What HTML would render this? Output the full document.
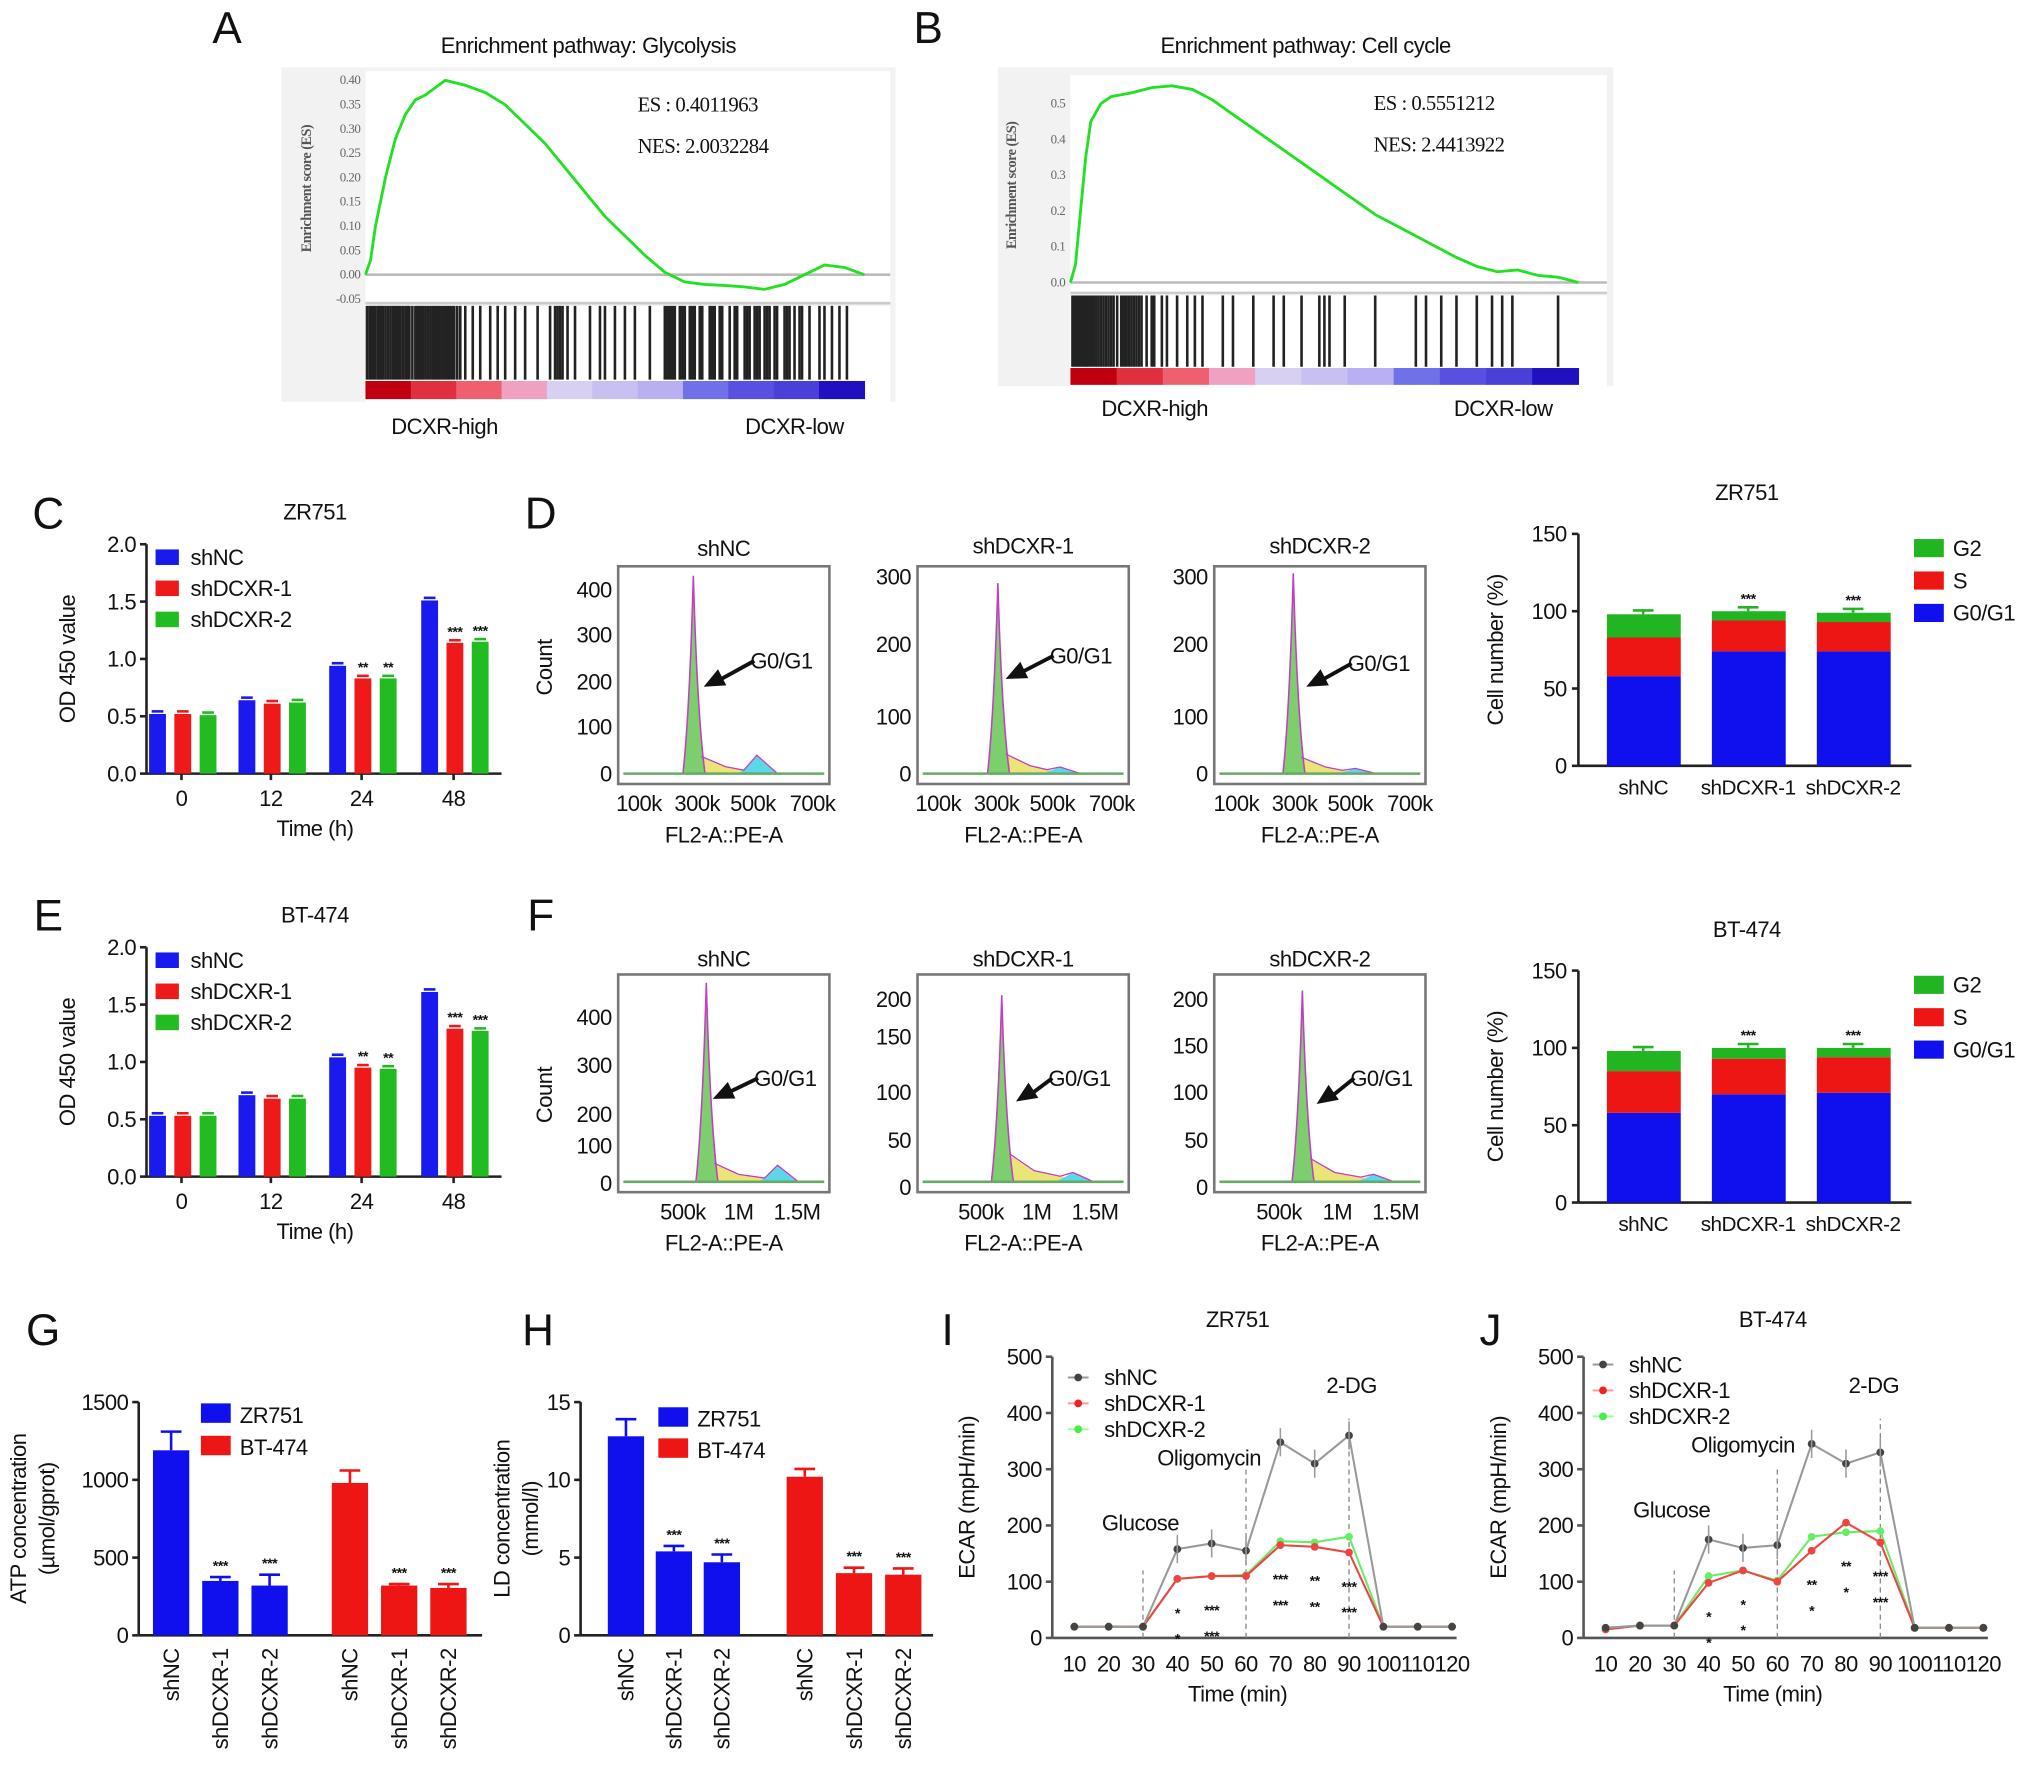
<!DOCTYPE html>
<html><head><meta charset="utf-8"><style>
html,body{margin:0;padding:0;background:#fff}
svg{display:block;font-family:"Liberation Sans",Arial,sans-serif}
text{letter-spacing:-0.4px}
</style></head><body>
<svg id="fig" width="2032" height="1774" viewBox="0 0 1568 1369" xmlns="http://www.w3.org/2000/svg"></svg>
<script>
// ---------- DATA ----------
const gseaAx = [0,0.01,0.02,0.04,0.06,0.08,0.1,0.12,0.14,0.16,0.18,0.2,0.24,0.28,0.32,0.36,0.4,0.44,0.48,0.52,0.56,0.6,0.64,0.68,0.72,0.76,0.8,0.84,0.88,0.92,0.96,1.0];
const gseaAes = [0,0.03,0.10,0.2,0.28,0.33,0.36,0.37,0.385,0.40,0.395,0.39,0.375,0.35,0.31,0.27,0.22,0.17,0.12,0.08,0.04,0.005,-0.015,-0.02,-0.022,-0.025,-0.03,-0.02,0.0,0.02,0.015,0.0];
const gseaBx = [0,0.01,0.02,0.03,0.04,0.06,0.08,0.12,0.16,0.2,0.24,0.28,0.32,0.36,0.4,0.44,0.48,0.52,0.56,0.6,0.64,0.68,0.72,0.76,0.8,0.84,0.88,0.92,0.96,1];
const gseaBes = [0,0.05,0.2,0.35,0.45,0.5,0.52,0.53,0.545,0.55,0.54,0.51,0.47,0.43,0.39,0.35,0.31,0.27,0.23,0.19,0.16,0.13,0.1,0.07,0.045,0.03,0.035,0.02,0.015,0];
const hitsA = [0.003,0.008,0.012,0.016,0.02,0.025,0.028,0.032,0.035,0.04,0.045,0.05,0.055,0.058,0.062,0.066,0.07,0.075,0.08,0.084,0.088,0.094,0.1,0.104,0.108,0.112,0.115,0.12,0.125,0.13,0.135,0.138,0.142,0.146,0.15,0.155,0.16,0.164,0.168,0.173,0.178,0.184,0.19,0.2,0.215,0.23,0.25,0.265,0.28,0.3,0.32,0.345,0.37,0.38,0.385,0.39,0.395,0.405,0.42,0.45,0.47,0.48,0.5,0.52,0.54,0.57,0.6,0.605,0.61,0.615,0.62,0.63,0.635,0.64,0.65,0.655,0.66,0.67,0.675,0.69,0.695,0.7,0.71,0.715,0.73,0.74,0.745,0.76,0.765,0.77,0.78,0.785,0.79,0.8,0.805,0.81,0.82,0.825,0.84,0.845,0.85,0.86,0.87,0.875,0.89,0.91,0.92,0.935,0.95,0.965];
const hitsB = [0.004,0.008,0.012,0.016,0.02,0.024,0.028,0.032,0.035,0.04,0.045,0.05,0.055,0.06,0.065,0.07,0.075,0.08,0.085,0.092,0.1,0.105,0.11,0.115,0.12,0.125,0.13,0.135,0.14,0.15,0.16,0.165,0.18,0.19,0.21,0.23,0.245,0.26,0.3,0.32,0.36,0.4,0.42,0.455,0.49,0.5,0.51,0.54,0.6,0.68,0.7,0.73,0.76,0.8,0.83,0.85,0.87,0.96];
const timeCats = ["0","12","24","48"];
const odC_shNC = [0.52,0.64,0.94,1.51];
const odC_sh1 = [0.52,0.61,0.83,1.14];
const odC_sh2 = [0.51,0.62,0.83,1.15];
const odC_stars = ["","","**","***"];
const odE_shNC = [0.53,0.71,1.04,1.61];
const odE_sh1 = [0.53,0.68,0.95,1.29];
const odE_sh2 = [0.53,0.68,0.94,1.27];
const odE_stars = ["","","**","***"];
const flowTitles = ["shNC","shDCXR-1","shDCXR-2"];
const flowD_g1Peak = [430,290,305];
const flowD_g2Peak = [40,10,8];
const flowD_sLevel = [15,12,10];
const flowF_g1Peak = [480,200,205];
const flowF_g2Peak = [40,10,8];
const flowF_sLevel = [18,12,10];
const stackCats = ["shNC","shDCXR-1","shDCXR-2"];
const stackD_G0G1 = [58,74,74];
const stackD_S = [25,20,19];
const stackD_G2 = [15,6,6];
const stackF_G0G1 = [58,70,71];
const stackF_S = [27,23,23];
const stackF_G2 = [13,7,6];
const atpZR = [1190,350,320];
const atpZRerr = [120,25,70];
const atpBT = [980,320,305];
const atpBTerr = [80,10,25];
const ldZR = [12.8,5.4,4.7];
const ldZRerr = [1.1,0.35,0.5];
const ldBT = [10.2,4.0,3.9];
const ldBTerr = [0.5,0.35,0.4];
const ecarTimes = [10,20,30,40,50,60,70,80,90,100,110,120];
const ecarI_shNC = [20,20,20,158,168,155,348,310,360,20,20,20];
const ecarI_sh1 = [20,20,20,105,110,110,165,162,152,20,20,20];
const ecarI_sh2 = [20,20,20,105,110,112,172,170,180,20,20,20];
const ecarJ_shNC = [18,22,22,175,160,165,345,310,330,18,18,18];
const ecarJ_sh1 = [15,22,22,98,120,100,155,205,170,18,18,18];
const ecarJ_sh2 = [18,22,22,110,120,102,180,188,190,18,18,18];

// ---------- HELPERS ----------
const NS="http://www.w3.org/2000/svg";
const svg=document.getElementById('fig');
function mk(tag,attrs,name,parent){
  const e=document.createElementNS(NS,tag);
  for(const k in attrs) e.setAttribute(k,attrs[k]);
  
  
  (parent||svg).appendChild(e);return e;
}
function txt(x,y,s,size,name,opt){
  opt=opt||{};
  const t=mk('text',{x:x,y:y,'font-size':size,'text-anchor':opt.anchor||'middle',fill:opt.fill||'#111','font-family':opt.family||'"Liberation Sans",Arial,sans-serif'},name,opt.parent);
  if(opt.rot!==undefined) t.setAttribute('transform','rotate('+opt.rot+' '+x+' '+y+')');
  if(opt.weight) t.setAttribute('font-weight',opt.weight);
  t.textContent=s;return t;
}
function line(x1,y1,x2,y2,stroke,w,name,dash){
  const l=mk('line',{x1:x1,y1:y1,x2:x2,y2:y2,stroke:stroke,'stroke-width':w},name);
  if(dash) l.setAttribute('stroke-dasharray',dash);
  return l;
}
function rect(x,y,w,h,fill,name){return mk('rect',{x:x,y:y,width:w,height:h,fill:fill},name);}

[["A",175,33],["B",716,33],["C",37,408],["D",417,408],["E",37,718],["F",417,718],["G",33,1038],["H",415,1038],["I",731,1038],["J",1150,1038]].forEach(p=>{
  txt(p[1],p[2],p[0],34,'panel-label-'+p[0].toLowerCase());
});

// ---------- GSEA ----------
function gsea(o){
  rect(o.bx,o.by,o.bw,o.bh,'#f2f2f2','gsea-frame');
  rect(o.px,o.py,o.pw,o.ph,'#fff','gsea-plot-area');
  rect(o.px,o.hy,o.pw,o.hh+o.ch+4,'#fff','gsea-hit-area');
  txt(o.bx+o.bw/2,o.ty,o.title,17,'gsea-title');
  const ys=v=>o.y0-v*o.k;
  line(o.px,ys(0),o.px+o.pw,ys(0),'#bbb',2,'gsea-zero-line');
  line(o.px,o.hy-2,o.px+o.pw,o.hy-2,'#ccc',2,'gsea-divider');
  o.ticks.forEach(t=>{txt(o.px-4,ys(t)+3,t.toFixed(o.dec),10,'gsea-y-tick',{anchor:'end',fill:'#666',family:'"Liberation Serif",serif'});});
  txt(o.px-42,(o.py+o.hy)/2,'Enrichment score (ES)',11,'gsea-y-axis-title',{rot:-90,fill:'#555',family:'"Liberation Serif",serif',weight:'bold'});
  const xs=f=>o.cx+f*o.cw;
  let d='';o.xs.forEach((f,i)=>{d+=(i?'L':'M')+xs(f).toFixed(1)+','+ys(o.es[i]).toFixed(1);});
  mk('path',{d:d,fill:'none',stroke:'#22e022','stroke-width':2.2},'gsea-es-curve');
  o.hits.forEach(f=>{line(xs(f),o.hy,xs(f),o.hy+o.hh,'#222',2,'gsea-hit-line');});
  const cols=['#c00010','#e03040','#ee6070','#f0a0c0','#d8d0f0','#c8c0f0','#b8b0f0','#7070e8','#5a50e0','#4a40d8','#2010c0'];
  const bw=o.cw/cols.length;
  cols.forEach((c,i)=>rect(o.cx+i*bw,o.hy+o.hh+1,bw+0.5,o.ch,c,'gsea-rank-colorbar-segment'));
  txt(o.lx1,o.ly,'DCXR-high',17,'gsea-label-high');
  txt(o.lx2,o.ly,'DCXR-low',17,'gsea-label-low');
  txt(o.esx,o.esy,o.esText,16,'gsea-es-value',{anchor:'start',family:'"Liberation Serif",serif'});
  txt(o.esx,o.esy+32,o.nesText,16,'gsea-nes-value',{anchor:'start',family:'"Liberation Serif",serif'});
}
gsea({bx:217,by:52,bw:474,bh:258,px:282,py:55,pw:405,ph:178,hy:236,hh:57,ch:14,cx:282,cw:385,ty:41,title:'Enrichment pathway: Glycolysis',y0:212,k:375,ticks:[0.40,0.35,0.30,0.25,0.20,0.15,0.10,0.05,0.00,-0.05],dec:2,xs:gseaAx,es:gseaAes,hits:hitsA,lx1:343,lx2:613,ly:335,esx:492,esy:86,esText:'ES : 0.4011963',nesText:'NES: 2.0032284'});
gsea({bx:770,by:52,bw:475,bh:246,px:826,py:58,pw:414,ph:168,hy:228,hh:55,ch:13,cx:826,cw:392,ty:41,title:'Enrichment pathway: Cell cycle',y0:218,k:276,ticks:[0.5,0.4,0.3,0.2,0.1,0.0],dec:1,xs:gseaBx,es:gseaBes,hits:hitsB,lx1:891,lx2:1160,ly:321,esx:1060,esy:85,esText:'ES :  0.5551212',nesText:'NES:  2.4413922'});

// ---------- OD bar charts ----------
function odChart(dy,title,s0,s1,s2,stars){
  const x0=113,x1=387,yb=597+dy,k=88.5;
  const ys=v=>yb-v*k;
  txt(243,401+dy,title,17,'od-chart-title');
  line(x0,yb,x1,yb,'#222',2,'od-x-axis');line(x0,yb,x0,ys(2),'#222',2,'od-y-axis');
  [0,0.5,1,1.5,2].forEach(v=>{line(x0-5,ys(v),x0,ys(v),'#222',2,'od-y-tick');txt(x0-8,ys(v)+6,v.toFixed(1),17,'od-y-tick-label',{anchor:'end'});});
  const centers=[140,209,279,350];
  const cols=['#1a1aee','#ee1a1a','#22bb22'];
  timeCats.forEach((c,i)=>{
    const cx=centers[i];
    line(cx,yb,cx,yb+5,'#222',2,'od-x-tick');
    txt(cx,yb+25,c,17,'od-x-tick-label');
    [s0,s1,s2].forEach((s,j)=>{
      const bx=cx-25+j*19.5;
      rect(bx,ys(s[i]),13,s[i]*k,cols[j],'od-bar');
      line(bx+2,ys(s[i])-2,bx+11,ys(s[i])-2,cols[j],2,'od-error-cap');
      if(j>0&&stars[i]) txt(bx+6.5,ys(s[i])-5,stars[i],11,'od-significance',{weight:'bold'});
    });
  });
  txt(243,yb+48,'Time (h)',17,'od-x-axis-title');
  txt(58,(yb+ys(2))/2,'OD 450 value',17,'od-y-axis-title',{rot:-90});
  ['shNC','shDCXR-1','shDCXR-2'].forEach((n,j)=>{
    rect(120,424+dy+j*24,18,12,cols[j],'od-legend-swatch');
    txt(147,436+dy+j*24,n,17,'od-legend-label',{anchor:'start'});
  });
}
odChart(0,'ZR751',odC_shNC,odC_sh1,odC_sh2,odC_stars);
odChart(311,'BT-474',odE_shNC,odE_sh1,odE_sh2,odE_stars);

// ---------- Flow histograms ----------
function flow(bx,by,bw,bh,title,ty,yTicks,yTickY,peakHeight,peakPx,sLevel,g2Peak,g2Px,pxPerCount,xTickLabels,xTickX){
  const yb=by+bh-8;
  const fr=rect(bx,by,bw,bh,'#fff','flow-plot-frame');
  fr.setAttribute('stroke','#777');fr.setAttribute('stroke-width','2');
  txt(bx+bw/2,ty,title,17,'flow-title');
  yTicks.forEach((t,i)=>txt(bx-5,yTickY[i]+6,t,17,'flow-y-tick-label',{anchor:'end'}));
  xTickLabels.forEach((t,i)=>txt(xTickX[i],by+bh+21,t,17,'flow-x-tick-label'));
  txt(bx+bw/2,by+bh+45,'FL2-A::PE-A',17,'flow-x-axis-title');
  const H=v=>yb-v*pxPerCount;
  mk('path',{d:`M${peakPx},${yb} L${peakPx+4},${H(sLevel*2.5)} L${peakPx+25},${H(sLevel)} L${g2Px-8},${H(sLevel*0.5)} L${g2Px},${yb} Z`,fill:'#e8e060',opacity:0.85},'flow-s-phase-fill');
  mk('path',{d:`M${g2Px-14},${yb} Q${g2Px-6},${H(g2Peak*0.5)} ${g2Px},${H(g2Peak)} Q${g2Px+8},${H(g2Peak*0.4)} ${g2Px+16},${yb} Z`,fill:'#5ad8e8'},'flow-g2-peak-fill');
  mk('path',{d:`M${peakPx-8},${yb} Q${peakPx-3},${H(peakHeight*0.3)} ${peakPx},${H(peakHeight)} Q${peakPx+3},${H(peakHeight*0.3)} ${peakPx+9},${yb} Z`,fill:'#7ccf6c',stroke:'#c040c0','stroke-width':1.2},'flow-g1-peak-fill');
  mk('path',{d:`M${peakPx+6},${H(sLevel*2.5)} L${peakPx+25},${H(sLevel)} L${g2Px-10},${H(sLevel*0.5)} L${g2Px},${H(g2Peak)} L${g2Px+16},${yb}`,fill:'none',stroke:'#c040c0','stroke-width':1},'flow-fit-line');
  line(bx+4,yb,bx+bw-4,yb,'#6a6',2,'flow-baseline');
}
function arrow(x1,y1,x2,y2,label){
  line(x1,y1,x2+8,y2-3,'#111',3,'g0g1-arrow-shaft');
  const a=Math.atan2(y2-y1,x2-x1);
  const p=[[x2,y2],[x2-16*Math.cos(a)+7*Math.sin(a),y2-16*Math.sin(a)-7*Math.cos(a)],[x2-16*Math.cos(a)-7*Math.sin(a),y2-16*Math.sin(a)+7*Math.cos(a)]];
  mk('polygon',{points:p.map(q=>q.join(',')).join(' '),fill:'#111'},'g0g1-arrowhead');
  txt(x1-3,y1+6,label,17,'g0g1-label',{anchor:'start'});
}
const dTicksX=[[493,538,581,627],[724,769,812,858],[954,999,1042,1088]];
const dBox=[477,708,937];
flow(dBox[0],437,163,168,flowTitles[0],429,['400','300','200','100','0'],[455,490,526,561,597],flowD_g1Peak[0],535,flowD_sLevel[0],flowD_g2Peak[0],584,0.355,['100k','300k','500k','700k'],dTicksX[0]);
flow(dBox[1],437,163,168,flowTitles[1],427,['300','200','100','0'],[445,497,553,597],flowD_g1Peak[1],770,flowD_sLevel[1],flowD_g2Peak[1],818,0.507,['100k','300k','500k','700k'],dTicksX[1]);
flow(dBox[2],437,163,168,flowTitles[2],427,['300','200','100','0'],[445,497,553,597],flowD_g1Peak[2],998,flowD_sLevel[2],flowD_g2Peak[2],1046,0.507,['100k','300k','500k','700k'],dTicksX[2]);
arrow(582,510,543,530,'G0/G1');arrow(813,506,776,524,'G0/G1');arrow(1043,512,1008,530,'G0/G1');
txt(426,515,'Count',17,'flow-y-axis-title',{rot:-90});
const fTicksX=[[527,570,615],[757,800,845],[987,1032,1077]];
flow(dBox[0],752,163,168,flowTitles[0],746,['400','300','200','100','0'],[785,822,860,884,913],flowF_g1Peak[0],545,flowF_sLevel[0],flowF_g2Peak[0],600,0.32,['500k','1M','1.5M'],fTicksX[0]);
flow(dBox[1],752,163,168,flowTitles[1],746,['200','150','100','50','0'],[771,800,843,880,916],flowF_g1Peak[1],773,flowF_sLevel[1],flowF_g2Peak[1],828,0.72,['500k','1M','1.5M'],fTicksX[1]);
flow(dBox[2],752,163,168,flowTitles[2],746,['200','150','100','50','0'],[771,807,843,880,916],flowF_g1Peak[2],1005,flowF_sLevel[2],flowF_g2Peak[2],1060,0.72,['500k','1M','1.5M'],fTicksX[2]);
arrow(585,832,550,848,'G0/G1');arrow(812,832,784,850,'G0/G1');arrow(1045,832,1016,852,'G0/G1');
txt(426,845,'Count',17,'flow-y-axis-title',{rot:-90});

// ---------- stacked bars ----------
function stacked(dy,title,g1,s,g2){
  const x0=1218,x1=1475,yb=591+dy,k=179/150;
  const ys=v=>yb-v*k;
  txt(1348,386+dy,title,17,'stack-chart-title');
  line(x0,yb,x1,yb,'#222',2,'stack-x-axis');line(x0,yb,x0,ys(150),'#222',2,'stack-y-axis');
  [0,50,100,150].forEach(v=>{line(x0-5,ys(v),x0,ys(v),'#222',2,'stack-y-tick');txt(x0-9,ys(v)+6,String(v),17,'stack-y-tick-label',{anchor:'end'});});
  const centers=[1268,1349,1430];
  stackCats.forEach((c,i)=>{
    const cx=centers[i];
    rect(cx-28,ys(g1[i]),57,g1[i]*k,'#1010ee','stack-g0g1-segment');
    rect(cx-28,ys(g1[i]+s[i]),57,s[i]*k,'#ee1515','stack-s-segment');
    rect(cx-28,ys(g1[i]+s[i]+g2[i]),57,g2[i]*k,'#22b522','stack-g2-segment');
    line(cx,ys(g1[i]+s[i]+g2[i]),cx,ys(g1[i]+s[i]+g2[i])-3,'#22b522',2,'stack-error-bar');
    line(cx-8,ys(g1[i]+s[i]+g2[i])-3,cx+8,ys(g1[i]+s[i]+g2[i])-3,'#22b522',2,'stack-error-cap');
    if(i>0) txt(cx,ys(g1[i]+s[i]+g2[i])-6,'***',11,'stack-significance',{weight:'bold'});
    const t=txt(cx,yb+22,c,16,'stack-x-tick-label');
    t.setAttribute('letter-spacing','-0.9');
  });
  txt(1160,(yb+ys(150))/2,'Cell number (%)',17,'stack-y-axis-title',{rot:-90});
  [['G2','#22b522'],['S','#ee1515'],['G0/G1','#1010ee']].forEach((l,j)=>{
    rect(1477,416+dy+j*25,23,14,l[1],'stack-legend-swatch');
    txt(1507,429+dy+j*25,l[0],17,'stack-legend-label',{anchor:'start'});
  });
}
stacked(0,'ZR751',stackD_G0G1,stackD_S,stackD_G2);
stacked(337,'BT-474',stackF_G0G1,stackF_S,stackF_G2);

// ---------- ATP / LD ----------
function grouped(x0,x1,maxV,step,zr,zrErr,bt,btErr,centers,legX,ylab1,ylab2,ylx,dec){
  const yb=1262,k=180/maxV;
  const ys=v=>yb-v*k;
  line(x0,yb,x1,yb,'#222',2,'conc-x-axis');line(x0,yb,x0,ys(maxV),'#222',2,'conc-y-axis');
  for(let v=0;v<=maxV+1e-9;v+=step){line(x0-5,ys(v),x0,ys(v),'#222',2,'conc-y-tick');txt(x0-8,ys(v)+6,String(v),17,'conc-y-tick-label',{anchor:'end'});}
  const labs=['shNC','shDCXR-1','shDCXR-2'];
  const draw=(vals,errs,cs,col)=>vals.forEach((v,i)=>{
    const cx=cs[i];
    line(cx,ys(v),cx,ys(v+errs[i]),col,2,'conc-error-bar');
    line(cx-8,ys(v+errs[i]),cx+8,ys(v+errs[i]),col,2,'conc-error-cap');
    rect(cx-14,ys(v),28,v*k,col,'conc-bar');
    if(i>0) txt(cx,ys(v+errs[i])-5,'***',11,'conc-significance',{weight:'bold'});
    txt(cx+6,yb+10,labs[i],17,'conc-x-tick-label',{anchor:'end',rot:-90});
  });
  draw(zr,zrErr,centers.slice(0,3),'#1010ee');
  draw(bt,btErr,centers.slice(3),'#ee1515');
  rect(legX,1083+(dec?3:0),23,15,'#1010ee','conc-legend-swatch');txt(legX+30,1098+(dec?3:0),'ZR751',17,'conc-legend-label',{anchor:'start'});
  rect(legX,1108+(dec?2:0),23,15,'#ee1515','conc-legend-swatch');txt(legX+30,1123+(dec?2:0),'BT-474',17,'conc-legend-label',{anchor:'start'});
  txt(ylx,1172,ylab1,17,'conc-y-axis-title',{rot:-90});
  if(ylab2) txt(ylx+22,1172,ylab2,17,'conc-y-axis-units',{rot:-90});
}
grouped(107,372,1500,500,atpZR,atpZRerr,atpBT,atpBTerr,[132,170,208,270,308,346],155,'ATP concentration','(µmol/gprot)',20,false);
grouped(448,720,15,5,ldZR,ldZRerr,ldBT,ldBTerr,[483,520,557,621,659,697],508,'LD concentration','(mmol/l)',393,true);

// ---------- ECAR ----------
function ecar(ax,title,titleX,s0,s1,s2,stars1,stars2,ann,legX,legY){
  const xFirst=ax+17,stepX=26.5,yb=1264,k=217/500;
  const xs=i=>xFirst+i*stepX, ys=v=>yb-v*k;
  txt(titleX,1024,title,17,'ecar-chart-title');
  line(ax,yb,ax+312,yb,'#555',2,'ecar-x-axis');line(ax,yb,ax,ys(500),'#555',2,'ecar-y-axis');
  [0,100,200,300,400,500].forEach(v=>{line(ax-5,ys(v),ax,ys(v),'#555',2,'ecar-y-tick');txt(ax-8,ys(v)+6,String(v),17,'ecar-y-tick-label',{anchor:'end'});});
  ecarTimes.forEach((t,i)=>{const tt=txt(xs(i),yb+26,String(t),17,'ecar-x-tick-label');tt.setAttribute('letter-spacing','-1');});
  txt(titleX,yb+49,'Time (min)',17,'ecar-x-axis-title');
  txt(ax-60,ys(250),'ECAR (mpH/min)',17,'ecar-y-axis-title',{rot:-90});
  [2,5,8].forEach(i=>line(xs(i),yb,xs(i),ys(i==2?120:i==5?300:390),'#888',1,'ecar-injection-line','4,3'));
  const series=[[s2,'#66ee66'],[s1,'#ee4444'],[s0,'#999']];
  series.forEach(([s,col])=>{
    mk('polyline',{points:s.map((v,i)=>xs(i)+','+ys(v)).join(' '),fill:'none',stroke:col,'stroke-width':1.6},'ecar-series-line');
    s.forEach((v,i)=>{mk('circle',{cx:xs(i),cy:ys(v),r:3,fill:col==='#999'?'#444':col},'ecar-point');});
  });
  s0.forEach((v,i)=>{if(i>=3&&i<=8) line(xs(i),ys(v-25),xs(i),ys(v+25),'#999',1.2,'ecar-error-bar');});
  stars1.forEach((s,i)=>{if(s) txt(xs(i),ys(Math.min(s1[i],s2[i]))+30,s,11,'ecar-significance-1',{weight:'bold'});});
  stars2.forEach((s,i)=>{if(s) txt(xs(i),ys(Math.min(s1[i],s2[i]))+50,s,11,'ecar-significance-2',{weight:'bold'});});
  txt(ann[0][0],ann[0][1],'Glucose',17,'ecar-glucose-label');
  txt(ann[1][0],ann[1][1],'Oligomycin',17,'ecar-oligomycin-label');
  txt(ann[2][0],ann[2][1],'2-DG',17,'ecar-2dg-label');
  [['shNC','#444','#999'],['shDCXR-1','#ee2222','#f99'],['shDCXR-2','#44ee44','#9f9']].forEach((l,j)=>{
    line(legX-8,legY+j*20-6,legX+8,legY+j*20-6,l[2],1.5,'ecar-legend-line');
    mk('circle',{cx:legX,cy:legY+j*20-6,r:3,fill:l[1]},'ecar-legend-marker');
    txt(legX+20,legY+j*20,l[0],17,'ecar-legend-label',{anchor:'start'});
  });
}
ecar(812,'ZR751',955,ecarI_shNC,ecarI_sh1,ecarI_sh2,['','','','*','***','','***','**','***','','',''],['','','','*','***','','***','**','***','','',''],[[880,1181],[933,1131],[1043,1075]],832,1069);
ecar(1222,'BT-474',1368,ecarJ_shNC,ecarJ_sh1,ecarJ_sh2,['','','','*','*','','**','**','***','','',''],['','','','*','*','','*','*','***','','',''],[[1290,1171],[1345,1121],[1446,1075]],1237,1059);
</script>
</body></html>
